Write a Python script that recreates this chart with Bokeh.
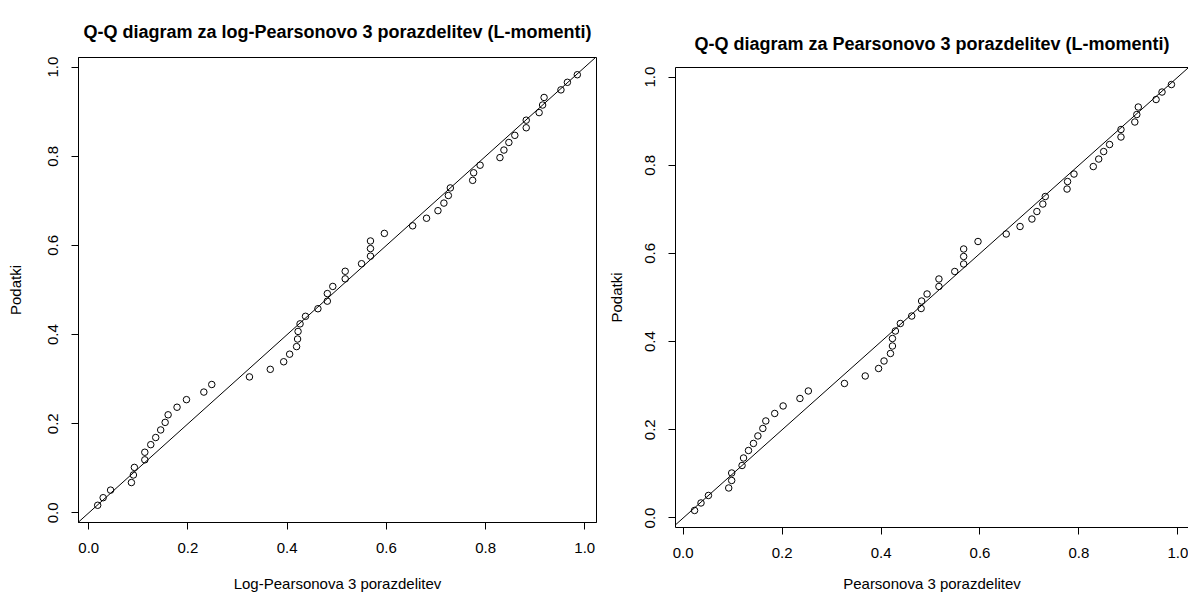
from bokeh.plotting import figure
from bokeh.layouts import row
from bokeh.models import Range1d, FixedTicker, PrintfTickFormatter, Slope, LinearAxis
from bokeh.embed import file_html
from bokeh.resources import INLINE

# Empirical probabilities of the sorted data (y axis, "Podatki")
podatki = [0.017, 0.034, 0.051, 0.068, 0.085, 0.102, 0.119, 0.136, 0.153, 0.169,
           0.186, 0.203, 0.220, 0.237, 0.254, 0.271, 0.288, 0.305, 0.322, 0.339,
           0.356, 0.373, 0.390, 0.407, 0.424, 0.441, 0.458, 0.475, 0.492, 0.508,
           0.525, 0.542, 0.559, 0.576, 0.593, 0.610, 0.627, 0.644, 0.661, 0.678,
           0.695, 0.712, 0.729, 0.746, 0.763, 0.780, 0.797, 0.814, 0.831, 0.847,
           0.864, 0.881, 0.898, 0.915, 0.932, 0.949, 0.966, 0.983]

# Theoretical probabilities, log-Pearson 3 (L-moments)
log_p3 = [0.018, 0.029, 0.044, 0.086, 0.090, 0.092, 0.113, 0.113, 0.125, 0.135,
          0.145, 0.154, 0.160, 0.178, 0.197, 0.232, 0.248, 0.324, 0.366, 0.393,
          0.405, 0.419, 0.421, 0.422, 0.426, 0.437, 0.462, 0.481, 0.481, 0.492,
          0.517, 0.517, 0.550, 0.568, 0.568, 0.568, 0.596, 0.653, 0.681, 0.704,
          0.716, 0.725, 0.729, 0.774, 0.776, 0.789, 0.829, 0.837, 0.847, 0.859,
          0.882, 0.882, 0.908, 0.915, 0.918, 0.952, 0.965, 0.985]

# Theoretical probabilities, Pearson 3 (L-moments)
p3 = [0.023, 0.036, 0.051, 0.092, 0.098, 0.098, 0.119, 0.122, 0.132, 0.142,
      0.151, 0.161, 0.167, 0.185, 0.202, 0.236, 0.253, 0.326, 0.368, 0.395,
      0.406, 0.419, 0.423, 0.423, 0.429, 0.439, 0.462, 0.481, 0.482, 0.493,
      0.517, 0.517, 0.549, 0.567, 0.567, 0.567, 0.596, 0.653, 0.681, 0.705,
      0.715, 0.727, 0.732, 0.776, 0.777, 0.790, 0.829, 0.840, 0.850, 0.862,
      0.885, 0.885, 0.913, 0.917, 0.920, 0.956, 0.968, 0.987]

tick_values = [0.0, 0.2, 0.4, 0.6, 0.8, 1.0]

titles = ["Q-Q diagram za log-Pearsonovo 3 porazdelitev (L-momenti)",
          "Q-Q diagram za Pearsonovo 3 porazdelitev (L-momenti)"]
xlabels = ["Log-Pearsonova 3 porazdelitev", "Pearsonova 3 porazdelitev"]
ylabel = "Podatki"

FONT = "Liberation Sans"


def r_range(vals):
    lo, hi = min(vals), max(vals)
    ext = 0.04 * (hi - lo)
    return lo - ext, hi + ext


def style_axis(ax, label, standoff, vertical=False):
    ax.ticker = FixedTicker(ticks=tick_values)
    ax.formatter = PrintfTickFormatter(format="%.1f")
    ax.axis_line_color = "black"
    ax.major_tick_line_color = "black"
    ax.major_tick_out = 7
    ax.major_tick_in = 0
    ax.minor_tick_line_color = None
    ax.major_label_text_font = FONT
    ax.major_label_text_font_size = "15px"
    ax.major_label_text_color = "black"
    ax.major_label_standoff = 13
    if vertical:
        ax.major_label_orientation = "vertical"
    ax.axis_label = label
    ax.axis_label_text_font = FONT
    ax.axis_label_text_font_size = "15px"
    ax.axis_label_text_font_style = "normal"
    ax.axis_label_text_color = "black"
    ax.axis_label_standoff = standoff


def make(xvals, title, xlabel, fw, fh, xr, borders, title_standoff, xstand, ystand, clip_right):
    yr = r_range(podatki)
    p = figure(frame_width=fw, frame_height=fh,
               x_range=Range1d(*xr), y_range=Range1d(*yr),
               output_backend="svg", toolbar_location=None,
               min_border_left=borders[0], min_border_right=borders[1],
               min_border_top=borders[2], min_border_bottom=borders[3])
    p.frame_align = False
    p.title.text = title
    p.title.align = "center"
    p.title.vertical_align = "top"
    p.title.text_font = FONT
    p.title.text_font_size = "18px"
    p.title.text_font_style = "bold"
    p.title.text_color = "black"
    p.title.standoff = title_standoff
    p.xgrid.grid_line_color = None
    p.ygrid.grid_line_color = None
    p.background_fill_color = "white"
    p.border_fill_color = "white"
    style_axis(p.xaxis[0], xlabel, xstand)
    style_axis(p.yaxis[0], ylabel, ystand, vertical=True)
    if clip_right:
        p.outline_line_color = None
        top = LinearAxis(ticker=FixedTicker(ticks=[]), axis_line_color="black",
                         major_tick_line_color=None, minor_tick_line_color=None,
                         major_label_text_font_size="0px", major_label_standoff=0,
                         major_tick_out=0)
        p.add_layout(top, "above")
    else:
        p.outline_line_color = "black"
        p.outline_line_alpha = 1.0
    p.add_layout(Slope(gradient=1, y_intercept=0, line_color="black", line_width=1))
    p.scatter(xvals, podatki, marker="circle", size=6.5, fill_color=None,
              line_color="black", line_width=1)
    return p


xr1 = r_range(log_p3)
p1 = make(log_p3, titles[0], xlabels[0], 518, 465, xr1,
          (78, 4, 57, 74), 28, 19, 22, False)

xs, xe = r_range(p3)
# right panel runs past the window edge in the reference: show the visible part only
xr2 = (xs, xs + (xe - xs) * 513.0 / 515.0)
p2 = make(p3, titles[1], xlabels[1], 513, 460, xr2,
          (75, 0, 67, 69), 24, 14, 18, True)

layout = row(p1, p2)
open("out.html", "w").write(file_html(layout, INLINE))
